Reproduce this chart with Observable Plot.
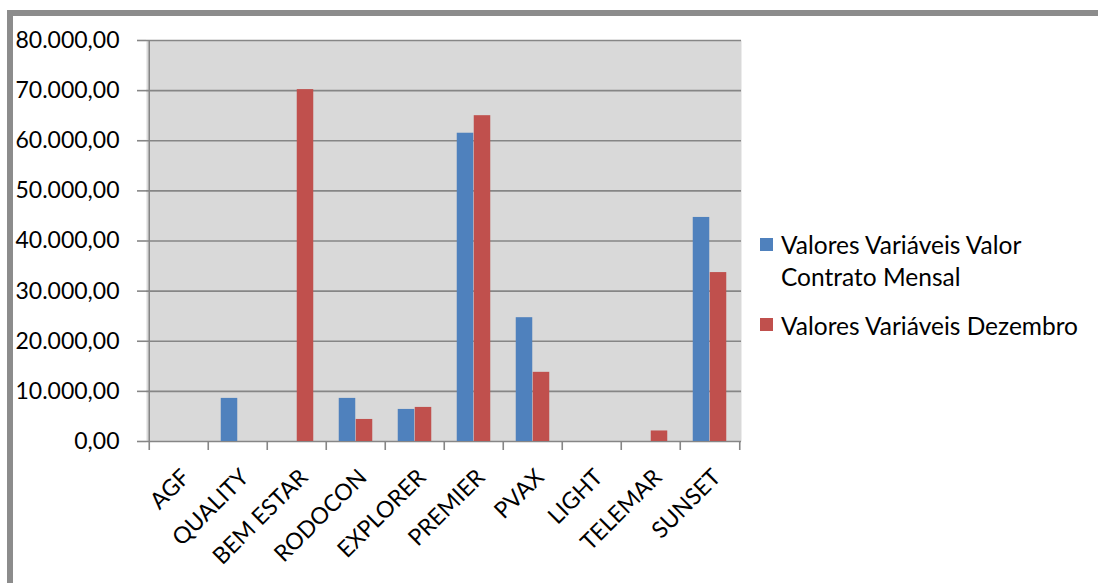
<!DOCTYPE html>
<html><head><meta charset="utf-8">
<script src="https://cdn.jsdelivr.net/npm/d3@7"></script>
<script src="https://cdn.jsdelivr.net/npm/@observablehq/plot@0.6"></script>
<style>
html,body{margin:0;padding:0;background:#fff;overflow:hidden;width:1098px;height:583px;}
#chart{position:absolute;left:0;top:0;}
#border{position:absolute;left:7px;top:10px;width:1400px;height:900px;border:6px solid #8c8c8c;box-sizing:border-box;pointer-events:none;}
.lg{position:absolute;font-family:Lato,sans-serif;font-size:24.5px;color:#000;line-height:32px;white-space:nowrap;}
.sw{position:absolute;width:13px;height:13px;}
</style>
</head><body>
<div id="chart"></div>
<div id="border"></div>
<div class="sw" style="left:760px;top:238px;background:#4f81bd"></div>
<div class="lg" style="left:781px;top:229px">Valores Variáveis Valor<br>Contrato Mensal</div>
<div class="sw" style="left:760px;top:318px;background:#c0504d"></div>
<div class="lg" style="left:781px;top:310px">Valores Variáveis Dezembro</div>
<script>
const categories = ["AGF","QUALITY","BEM ESTAR","RODOCON","EXPLORER","PREMIER","PVAX","LIGHT","TELEMAR","SUNSET"];
const seriesNames = ["Valores Variáveis Valor Contrato Mensal","Valores Variáveis Dezembro"];
const contratoMensal = [0, 8600, 0, 8600, 6400, 61500, 24700, 0, 0, 44700];
const dezembro = [0, 0, 70200, 4400, 6800, 65000, 13800, 0, 2100, 33700];
const yTicks = [0,10000,20000,30000,40000,50000,60000,70000,80000];

const blueRows = categories.map((c,i)=>({cat:c, value:contratoMensal[i]}));
const redRows = categories.map((c,i)=>({cat:c, value:dezembro[i]}));
const fmt = d3.formatLocale({decimal:",", thousands:".", grouping:[3], currency:["R$",""]}).format(",.2f");
const gray = "#868686";

const plot = Plot.plot({
  width:1098, height:583,
  marginLeft:146, marginRight:357, marginTop:40, marginBottom:142,
  style:{background:"transparent", fontFamily:"Lato, sans-serif"},
  x:{domain:categories, padding:0, axis:null},
  y:{domain:[0,80000], axis:null},
  marks:[
    Plot.frame({fill:"#d9d9d9", stroke:"none"}),
    Plot.ruleY(yTicks, {stroke:gray, strokeWidth:1.6}),
    Plot.barY(blueRows, {x:"cat", y:"value", fill:"#4f81bd", insetLeft:12.75, insetRight:29.75}),
    Plot.barY(redRows, {x:"cat", y:"value", fill:"#c0504d", insetLeft:29.75, insetRight:12.75}),
    Plot.barY(categories.slice(0,1), {x:d=>d, y1:0, y2:80000, fill:gray, insetRight:58, insetLeft:-0.5}),
    Plot.axisY({ticks:yTicks, tickFormat:fmt, tickSize:9, tickPadding:18, stroke:gray, strokeWidth:1.6, strokeOpacity:1, fill:"black", fontSize:23, label:null}),
    Plot.axisX({tickSize:9, tickFormat:()=>"", dx:-29.75, stroke:gray, strokeWidth:1.6, strokeOpacity:1, label:null}),
    Plot.axisX({ticks:categories.slice(-1), tickSize:9, tickFormat:()=>"", dx:29.75, stroke:gray, strokeWidth:1.6, strokeOpacity:1, label:null}),
    Plot.text(categories, {x:d=>d, text:d=>d, frameAnchor:"bottom", rotate:-45, textAnchor:"end", lineAnchor:"middle", dx:7, dy:32, fontSize:23, fill:"black"})
  ]
});
document.getElementById("chart").appendChild(plot);
</script>
</body></html>
